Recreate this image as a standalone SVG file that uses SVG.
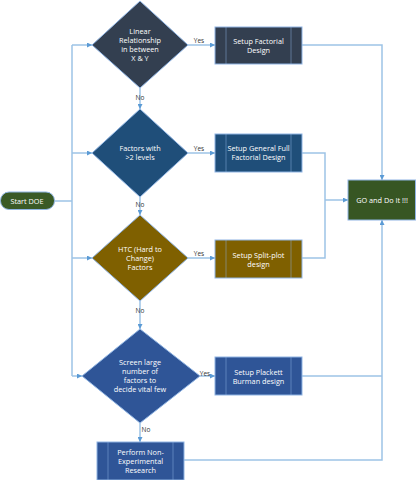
<svg xmlns="http://www.w3.org/2000/svg" width="416" height="480" viewBox="0 0 416 480">
<style>
text{font-family:"Open Sans","Liberation Sans",sans-serif;font-size:7.3px;fill:#fff;text-anchor:middle}
.lbl{fill:#333;font-size:6.5px}
.c{fill:none;stroke:#9DC3E6;stroke-width:1.5}
.n{stroke:#8FB4E3;stroke-width:1}
.in{stroke:#8FB4E3;stroke-width:0.8;opacity:0.6}
</style>
<defs>
<marker id="a" viewBox="0 0 6 6" refX="6" refY="3" markerWidth="5" markerHeight="5" orient="auto" markerUnits="userSpaceOnUse">
<path d="M0,0L6,3L0,6z" fill="#5B9BD5"/>
</marker>
</defs>
<rect width="416" height="480" fill="#fff"/>
<g id="connectors">
<path class="c" d="M55,201H72"/>
<path class="c" d="M72,45V376"/>
<path class="c" d="M72,45H92" marker-end="url(#a)"/>
<path class="c" d="M72,153H92" marker-end="url(#a)"/>
<path class="c" d="M72,258H92" marker-end="url(#a)"/>
<path class="c" d="M72,376H82" marker-end="url(#a)"/>
<path class="c" d="M188,45H215" marker-end="url(#a)"/>
<path class="c" d="M188,153H215" marker-end="url(#a)"/>
<path class="c" d="M188,258H215" marker-end="url(#a)"/>
<path class="c" d="M200,376H215" marker-end="url(#a)"/>
<path class="c" d="M140,88V109" marker-end="url(#a)"/>
<path class="c" d="M140,197V215" marker-end="url(#a)"/>
<path class="c" d="M140,301V329" marker-end="url(#a)"/>
<path class="c" d="M140,423V442" marker-end="url(#a)"/>
<path class="c" d="M302,45H382V180" marker-end="url(#a)"/>
<path class="c" d="M302,153H325V258H302"/>
<path class="c" d="M325,200H348" marker-end="url(#a)"/>
<path class="c" d="M302,376H382"/>
<path class="c" d="M184,460H382V220" marker-end="url(#a)"/>
<text class="lbl" x="199" y="43">Yes</text>
<text class="lbl" x="199" y="151">Yes</text>
<text class="lbl" x="199" y="256">Yes</text>
<text class="lbl" x="205" y="376">Yes</text>
<text class="lbl" x="140" y="100">No</text>
<text class="lbl" x="140" y="207">No</text>
<text class="lbl" x="140" y="313">No</text>
<text class="lbl" x="146" y="432">No</text>
</g>
<g id="start">
<rect x="0.5" y="192" width="54" height="17.5" rx="8.5" fill="#3A5A26" class="n"/>
<text x="27" y="204">Start DOE</text>
</g>
<g id="d1">
<path d="M140,1L188,45L140,88L92,45z" fill="#333F50" class="n"/>
<text x="140" y="34">Linear</text>
<text x="140" y="43">Relationship</text>
<text x="140" y="52">in between</text>
<text x="140" y="61">X &amp; Y</text>
</g>
<g id="d2">
<path d="M140,109L188,153L140,197L92,153z" fill="#1F4E79" class="n"/>
<text x="140" y="151">Factors with</text>
<text x="140" y="160">&gt;2 levels</text>
</g>
<g id="d3">
<path d="M140,215L188,258L140,301L92,258z" fill="#7F6000" class="n"/>
<text x="140" y="252">HTC (Hard to</text>
<text x="140" y="261">Change)</text>
<text x="140" y="270">Factors</text>
</g>
<g id="d4">
<path d="M140,329L200,376L140,423L82,376z" fill="#2F5597" class="n"/>
<text x="140" y="365">Screen large</text>
<text x="140" y="374">number of</text>
<text x="140" y="383">factors to</text>
<text x="140" y="392">decide vital few</text>
</g>
<g id="b1">
<rect x="215" y="27" width="87" height="37" fill="#333F50" class="n"/>
<path class="in" d="M226,27V64M291,27V64"/>
<text x="258.5" y="44">Setup Factorial</text>
<text x="258.5" y="53">Design</text>
</g>
<g id="b2">
<rect x="215" y="134" width="87" height="38" fill="#1F4E79" class="n"/>
<path class="in" d="M226,134V172M291,134V172"/>
<text x="258.5" y="151">Setup General Full</text>
<text x="258.5" y="160">Factorial Design</text>
</g>
<g id="b3">
<rect x="215" y="240" width="87" height="38" fill="#7F6000" class="n"/>
<path class="in" d="M226,240V278M291,240V278"/>
<text x="258.5" y="258">Setup Split-plot</text>
<text x="258.5" y="267">design</text>
</g>
<g id="b4">
<rect x="215" y="357" width="87" height="38" fill="#2F5597" class="n"/>
<path class="in" d="M226,357V395M291,357V395"/>
<text x="258.5" y="375">Setup  Plackett</text>
<text x="258.5" y="384">Burman design</text>
</g>
<g id="b5">
<rect x="97" y="442" width="87" height="38" fill="#2F5597" class="n"/>
<path class="in" d="M108,442V480M173,442V480"/>
<text x="140.5" y="455">Perform Non-</text>
<text x="140.5" y="464">Experimental</text>
<text x="140.5" y="473">Research</text>
</g>
<g id="go">
<rect x="348" y="180" width="67.5" height="40" fill="#375623" class="n"/>
<text x="382" y="203">GO and Do It !!!</text>
</g>
</svg>
